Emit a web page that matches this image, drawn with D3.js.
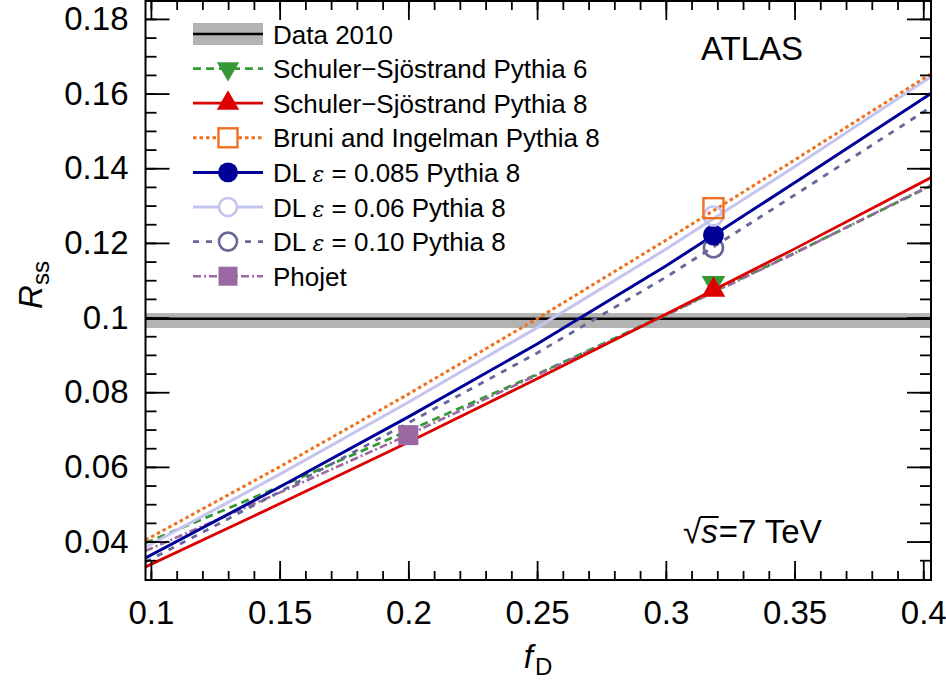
<!DOCTYPE html>
<html><head><meta charset="utf-8">
<script src="https://cdn.jsdelivr.net/npm/d3@7"></script>
<style>
body{margin:0;background:#fff}
svg{display:block}
text{font-family:"Liberation Sans",Arial,Helvetica,sans-serif;fill:#000}
</style>
</head><body>
<svg id="chart" width="946" height="687"></svg>
<script>
// ---------- data ----------
const fD       = [0.0979, 0.15, 0.2, 0.25, 0.3, 0.35, 0.403];
const ssPy6    = [0.0396, 0.0547, 0.0697, 0.0848, 0.1008, 0.1173, 0.1353];
const ssPy8    = [0.0332, 0.0501, 0.0666, 0.0836, 0.1009, 0.1184, 0.1375];
const bruniPy8 = [0.0404, 0.0600, 0.0795, 0.0997, 0.1207, 0.1422, 0.1653];
const dl085    = [0.0356, 0.0546, 0.0734, 0.0929, 0.1138, 0.1361, 0.1600];
const dl006    = [0.0385, 0.0580, 0.0773, 0.0973, 0.1183, 0.1404, 0.1645];
const dl010    = [0.0345, 0.0533, 0.0718, 0.0905, 0.1108, 0.1328, 0.1564];
const phojet   = [0.0375, 0.0531, 0.0686, 0.0846, 0.1006, 0.1172, 0.1355];
const markerFD = [0.3185, 0.3185, 0.3185, 0.3185, 0.3185, 0.3185, 0.2];
const markerR  = [0.1093, 0.1074, 0.1293, 0.1221, 0.1272, 0.1187, 0.0685];
const dataR = 0.0997, dataLo = 0.0972, dataHi = 0.1012;
const seriesNames = ["Schuler\u2212Sj\u00f6strand Pythia 6", "Schuler\u2212Sj\u00f6strand Pythia 8",
  "Bruni and Ingelman Pythia 8", "DL \u03b5 = 0.085 Pythia 8", "DL \u03b5 = 0.06 Pythia 8",
  "DL \u03b5 = 0.10 Pythia 8", "Phojet"];
const dataLabel = "Data 2010";
const xTicks = [0.1, 0.15, 0.2, 0.25, 0.3, 0.35, 0.4];
const xTickLabels = ["0.1", "0.15", "0.2", "0.25", "0.3", "0.35", "0.4"];
const yTicks = [0.04, 0.06, 0.08, 0.1, 0.12, 0.14, 0.16, 0.18];
const yTickLabels = ["0.04", "0.06", "0.08", "0.1", "0.12", "0.14", "0.16", "0.18"];

// ---------- styles ----------
const seriesValues = [ssPy6, ssPy8, bruniPy8, dl085, dl006, dl010, phojet];
const styles = [
  {color:"#359a35", dash:"8,5",   width:2.8, sym:"tridown", fill:true},
  {color:"#dd0000", dash:null,    width:2.8, sym:"triup",   fill:true},
  {color:"#f07020", dash:"3.5,3", width:3,   sym:"square",  fill:false},
  {color:"#000099", dash:null,    width:3,   sym:"circle",  fill:true},
  {color:"#c4c4f0", dash:null,    width:3,   sym:"circle",  fill:false},
  {color:"#666699", dash:"6,7",   width:2.8, sym:"circle",  fill:false},
  {color:"#9a68a2", dash:"8,3,2,3", width:2.6, sym:"squaref", fill:true}
];
const drawOrder = [0, 6, 1, 5, 3, 4, 2];

const svg = d3.select("#chart");
const X0 = 145.5, X1 = 931, Y0 = 580, Y1 = 1;
const x = d3.scaleLinear().domain([0.0979, 0.403]).range([X0, X1]);
const y = d3.scaleLinear().domain([0.0297, 0.1848]).range([Y0, Y1]);

svg.append("defs").append("clipPath").attr("id", "clip")
  .append("rect").attr("x", X0).attr("y", Y1).attr("width", X1 - X0).attr("height", Y0 - Y1);
const plot = svg.append("g").attr("clip-path", "url(#clip)");

// data band
plot.append("rect").attr("x", X0).attr("width", X1 - X0)
  .attr("y", y(dataHi)).attr("height", y(dataLo) - y(dataHi)).attr("fill", "#b3b3b3");
plot.append("line").attr("x1", X0).attr("x2", X1).attr("y1", y(dataR)).attr("y2", y(dataR))
  .attr("stroke", "#000").attr("stroke-width", 2.6);

const line = d3.line().x(d => x(d[0])).y(d => y(d[1]));
drawOrder.forEach(i => {
  const st = styles[i];
  plot.append("path").datum(fD.map((f, k) => [f, seriesValues[i][k]]))
    .attr("d", line).attr("fill", "none").attr("stroke", st.color)
    .attr("stroke-width", st.width).attr("stroke-dasharray", st.dash);
});

function symbol(g, st, cx, cy, scale) {
  const s = scale || 1;
  if (st.sym === "triup" || st.sym === "tridown") {
    g.append("path").attr("d", d3.symbol(d3.symbolTriangle, 240 * s * s)())
      .attr("transform", `translate(${cx},${cy})` + (st.sym === "tridown" ? " rotate(180)" : ""))
      .attr("fill", st.color);
  } else if (st.sym === "square" || st.sym === "squaref") {
    const h = 10 * s;
    g.append("rect").attr("x", cx - h).attr("y", cy - h).attr("width", 2 * h).attr("height", 2 * h)
      .attr("fill", st.fill ? st.color : "none").attr("stroke", st.fill ? "none" : st.color)
      .attr("stroke-width", 2.4);
  } else {
    g.append("circle").attr("cx", cx).attr("cy", cy).attr("r", (st.fill ? 10.5 : 9.5) * s)
      .attr("fill", st.fill ? st.color : "none").attr("stroke", st.fill ? "none" : st.color)
      .attr("stroke-width", 2.6);
  }
}
drawOrder.forEach(i => symbol(plot, styles[i], x(markerFD[i]), y(markerR[i])));

// ---------- frame & axes ----------
const minorX = d3.range(0.1, 0.4001, 0.01);
const minorY = d3.range(0.035, 0.1801, 0.005);
function axisGroup(axis, tx, ty) {
  const g = svg.append("g").attr("transform", `translate(${tx},${ty})`).call(axis);
  g.select(".domain").remove();
  g.selectAll(".tick line").attr("stroke", "#000").attr("stroke-width", 1.8);
  return g;
}
// minor
axisGroup(d3.axisBottom(x).tickValues(minorX).tickSize(-9).tickFormat(""), 0, Y0);
axisGroup(d3.axisTop(x).tickValues(minorX).tickSize(-9).tickFormat(""), 0, Y1);
axisGroup(d3.axisLeft(y).tickValues(minorY).tickSize(-11).tickFormat(""), X0, 0);
axisGroup(d3.axisRight(y).tickValues(minorY).tickSize(-11).tickFormat(""), X1, 0);
// major
const gx = axisGroup(d3.axisBottom(x).tickValues(xTicks).tickSize(-19).tickPadding(21)
  .tickFormat((d, i) => xTickLabels[i]), 0, Y0);
axisGroup(d3.axisTop(x).tickValues(xTicks).tickSize(-19).tickFormat(""), 0, Y1);
const gy = axisGroup(d3.axisLeft(y).tickValues(yTicks).tickSize(-24).tickPadding(17)
  .tickFormat((d, i) => yTickLabels[i]), X0, 0);
axisGroup(d3.axisRight(y).tickValues(yTicks).tickSize(-24).tickFormat(""), X1, 0);
gx.selectAll("text").attr("font-size", 33).attr("font-family", "Liberation Sans, Arial, sans-serif");
gy.selectAll("text").attr("font-size", 33).attr("font-family", "Liberation Sans, Arial, sans-serif");

svg.append("rect").attr("x", X0).attr("y", Y1).attr("width", X1 - X0).attr("height", Y0 - Y1)
  .attr("fill", "none").attr("stroke", "#000").attr("stroke-width", 2);

// axis titles
const xt = svg.append("text").attr("x", 538).attr("y", 668).attr("text-anchor", "middle").attr("font-size", 33);
xt.append("tspan").attr("font-style", "italic").text("f");
xt.append("tspan").attr("font-size", 24).attr("dy", 7).attr("dx", 2).text("D");
const yt = svg.append("text").attr("transform", "translate(42,285) rotate(-90)")
  .attr("text-anchor", "middle").attr("font-size", 33);
yt.append("tspan").attr("font-style", "italic").text("R");
yt.append("tspan").attr("font-size", 24).attr("dy", 7).text("ss");

// ATLAS
svg.append("text").attr("x", 701).attr("y", 60).attr("font-size", 33).text("ATLAS");

// sqrt(s) = 7 TeV
(function () {
  let cx = 683; const by = 543;
  const t1 = svg.append("text").attr("x", cx).attr("y", by).attr("font-size", 33).text("\u221a");
  cx += t1.node().getComputedTextLength();
  const t2 = svg.append("text").attr("x", cx).attr("y", by).attr("font-size", 33)
    .attr("font-style", "italic").text("s");
  const sw = t2.node().getComputedTextLength();
  svg.append("line").attr("x1", cx - 1).attr("x2", cx + sw + 1).attr("y1", by - 26).attr("y2", by - 26)
    .attr("stroke", "#000").attr("stroke-width", 2);
  cx += sw + 1;
  svg.append("text").attr("x", cx).attr("y", by).attr("font-size", 33).text("=7 TeV");
})();

// ---------- legend ----------
const lg = svg.append("g");
const LX0 = 193, LX1 = 263, LM = 228, LT = 273, LY = 34, LD = 34.6;
lg.append("rect").attr("x", LX0).attr("y", LY - 11).attr("width", LX1 - LX0).attr("height", 22).attr("fill", "#b3b3b3");
lg.append("line").attr("x1", LX0).attr("x2", LX1).attr("y1", LY).attr("y2", LY).attr("stroke", "#000").attr("stroke-width", 2.6);
lg.append("text").attr("x", LT).attr("y", LY + 9.5).attr("font-size", 26).text(dataLabel);
seriesNames.forEach((name, i) => {
  const st = styles[i], cy = LY + LD * (i + 1);
  lg.append("line").attr("x1", LX0).attr("x2", LX1).attr("y1", cy).attr("y2", cy)
    .attr("stroke", st.color).attr("stroke-width", st.width).attr("stroke-dasharray", st.dash);
  if (!st.fill) lg.append("rect").attr("x", LM - 10).attr("y", cy - 10).attr("width", 20).attr("height", 20).attr("fill", "#fff");
  symbol(lg, st, LM, cy, 0.95);
  const tx = lg.append("text").attr("x", LT).attr("y", cy + 9.5).attr("font-size", 26);
  if (name.indexOf("\u03b5") >= 0) {
    const parts = name.split("\u03b5");
    tx.append("tspan").text(parts[0]);
    tx.append("tspan").attr("font-family", "DejaVu Serif, serif").attr("font-style", "italic").attr("font-size", 22).text("\u03b5");
    tx.append("tspan").text(parts[1]);
  } else tx.text(name);
});
</script>
</body></html>
